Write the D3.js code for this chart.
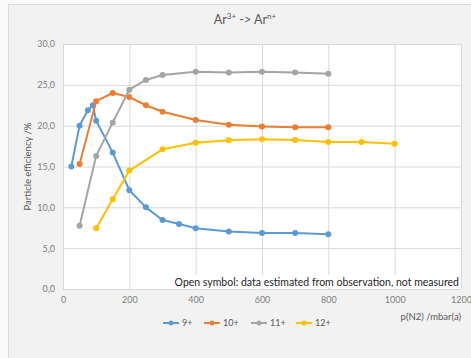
<!DOCTYPE html>
<html>
<head>
<meta charset="utf-8">
<script src="https://cdn.jsdelivr.net/npm/d3@7"></script>
<style>
  body { margin: 0; background: #fafafa; }
  svg { display: block; font-family: Lato, "Open Sans", sans-serif; }
</style>
</head>
<body>
<div id="chart"></div>
<script>
// series data: [p(N2), efficiency %]
const ion9 = [[25, 15.0], [50, 20.0], [75, 21.9], [90, 22.5], [100, 20.6], [150, 16.7], [200, 12.1],
  [250, 10.0], [300, 8.45], [350, 7.95], [400, 7.45], [500, 7.05], [600, 6.85], [700, 6.85], [800, 6.7]];
const ion10 = [[50, 15.3], [100, 23.0], [150, 24.0], [200, 23.5], [250, 22.5], [300, 21.7],
  [400, 20.7], [500, 20.1], [600, 19.9], [700, 19.8], [800, 19.8]];
const ion11 = [[50, 7.75], [100, 16.3], [150, 20.4], [200, 24.4], [250, 25.6], [300, 26.2],
  [400, 26.6], [500, 26.5], [600, 26.6], [700, 26.5], [800, 26.35]];
const ion12 = [[100, 7.45], [150, 11.0], [200, 14.5], [300, 17.1], [400, 17.9], [500, 18.2],
  [600, 18.35], [700, 18.25], [800, 18.0], [900, 18.0], [1000, 17.8]];

const seriesNames = ["9+", "10+", "11+", "12+"];
const seriesData = [ion9, ion10, ion11, ion12];
const colors = ["#5b9bd5", "#ed7d31", "#a5a5a5", "#ffc000"];

const xTicks = [0, 200, 400, 600, 800, 1000, 1200];
const yTicks = [0, 5, 10, 15, 20, 25, 30];

const width = 471, height = 358;
const plot = { left: 63, right: 461, top: 44, bottom: 289 };

const svg = d3.select("#chart").append("svg")
  .attr("width", width)
  .attr("height", height);

// chart panel
svg.append("rect")
  .attr("x", 8.5).attr("y", 4.5)
  .attr("width", width).attr("height", height)
  .attr("fill", "#f2f2f2")
  .attr("stroke", "#dcdcdc");

const x = d3.scaleLinear().domain([0, 1200]).range([plot.left, plot.right]);
const y = d3.scaleLinear().domain([0, 30]).range([plot.bottom, plot.top]);

// plot area
svg.append("rect")
  .attr("x", plot.left).attr("y", plot.top)
  .attr("width", plot.right - plot.left).attr("height", plot.bottom - plot.top)
  .attr("fill", "#fff");

// gridlines via axes
svg.append("g")
  .attr("transform", `translate(0,${plot.bottom})`)
  .call(d3.axisBottom(x).tickValues(xTicks).tickSize(-(plot.bottom - plot.top)).tickFormat(""))
  .call(g => g.select(".domain").remove())
  .call(g => g.selectAll("line").attr("stroke", "#d9d9d9"));

svg.append("g")
  .attr("transform", `translate(${plot.left},0)`)
  .call(d3.axisLeft(y).tickValues(yTicks).tickSize(-(plot.right - plot.left)).tickFormat(""))
  .call(g => g.select(".domain").remove())
  .call(g => g.selectAll("line").attr("stroke", "#d9d9d9"));

// tick labels
svg.append("g")
  .attr("transform", `translate(0,${plot.bottom})`)
  .call(d3.axisBottom(x).tickValues(xTicks).tickSize(0).tickPadding(8).tickFormat(d3.format("d")))
  .call(g => g.select(".domain").remove())
  .call(g => g.selectAll("text").attr("fill", "#7f7f7f").style("font-size", "9px").style("font-family", "Lato"));

svg.append("g")
  .attr("transform", `translate(${plot.left},0)`)
  .call(d3.axisLeft(y).tickValues(yTicks).tickSize(0).tickPadding(8)
    .tickFormat(d => d3.format(".1f")(d).replace(".", ",")))
  .call(g => g.select(".domain").remove())
  .call(g => g.selectAll("text").attr("fill", "#7f7f7f").style("font-size", "9px").style("font-family", "Lato"));

// annotation with white box
const note = svg.append("g");
const noteText = note.append("text")
  .attr("x", plot.right - 2).attr("y", 286)
  .attr("text-anchor", "end")
  .attr("fill", "#262626")
  .style("font-size", "10.5px")
  .text("Open symbol: data estimated from observation, not measured");
const bb = noteText.node().getBBox();
note.insert("rect", "text")
  .attr("x", bb.x - 2).attr("y", bb.y - 1)
  .attr("width", bb.width + 3).attr("height", bb.height + 1)
  .attr("fill", "#fff");

// lines + markers
const line = d3.line().x(d => x(d[0])).y(d => y(d[1]));
seriesData.forEach((data, i) => {
  const g = svg.append("g");
  g.append("path")
    .datum(data)
    .attr("d", line)
    .attr("fill", "none")
    .attr("stroke", colors[i])
    .attr("stroke-width", 2)
    .attr("stroke-linejoin", "round");
  g.selectAll("circle")
    .data(data)
    .join("circle")
    .attr("cx", d => x(d[0]))
    .attr("cy", d => y(d[1]))
    .attr("r", 3)
    .attr("fill", colors[i]);
});

// title
const title = svg.append("text")
  .attr("x", 245).attr("y", 24)
  .attr("text-anchor", "middle")
  .attr("fill", "#595959")
  .style("font-size", "12.5px");
title.append("tspan").text("Ar");
title.append("tspan").attr("dy", -5).style("font-size", "8px").text("3+");
title.append("tspan").attr("dy", 5).text(" -> Ar");
title.append("tspan").attr("dy", -5).style("font-size", "8px").text("n+");

// axis titles
svg.append("text")
  .attr("x", plot.right).attr("y", 320)
  .attr("text-anchor", "end")
  .attr("fill", "#595959")
  .style("font-size", "9.5px")
  .text("p(N2) /mbar(a)");

svg.append("text")
  .attr("transform", `translate(31,${(plot.top + plot.bottom) / 2}) rotate(-90)`)
  .attr("text-anchor", "middle")
  .attr("fill", "#595959")
  .style("font-size", "9.5px")
  .text("Particle efficiency /%");

// legend
const legendX = [163, 204, 251, 296];
const legend = svg.append("g");
seriesNames.forEach((name, i) => {
  const lg = legend.append("g").attr("transform", `translate(${legendX[i]},323)`);
  lg.append("line").attr("x1", 0).attr("x2", 16).attr("stroke", colors[i]).attr("stroke-width", 2);
  lg.append("circle").attr("cx", 8).attr("r", 2.5).attr("fill", colors[i]);
  lg.append("text").attr("x", 19).attr("y", 3).attr("fill", "#595959")
    .style("font-size", "9px").text(name);
});
</script>
</body>
</html>
